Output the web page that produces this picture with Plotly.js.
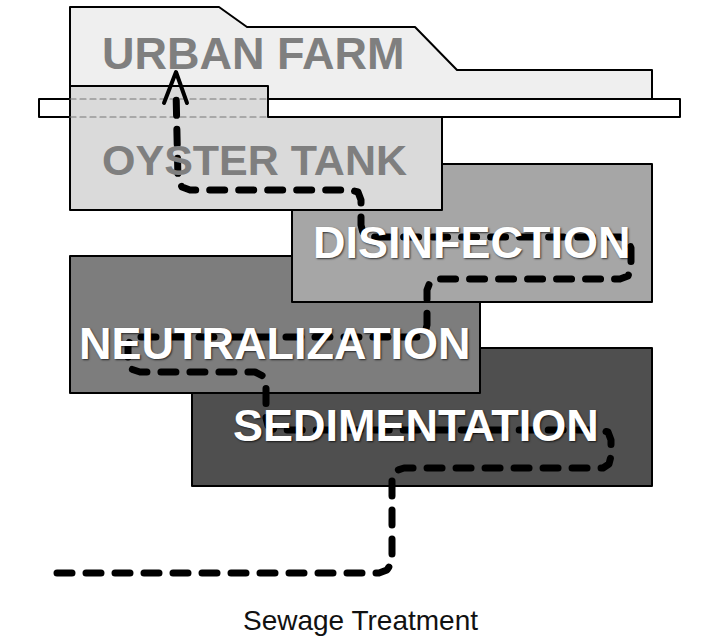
<!DOCTYPE html>
<html>
<head>
<meta charset="utf-8">
<script src="https://cdn.plot.ly/plotly-3.0.1.min.js"></script>
<style>
  html, body { margin: 0; padding: 0; background: #fff; }
  #chart { width: 716px; height: 641px; }
  .scatterlayer .js-line { stroke-linecap: round; stroke-linejoin: round; }
</style>
</head>
<body>
<div id="chart"></div>
<script>
// ---- Stage labels ----
const stageLabels = ["SEDIMENTATION", "NEUTRALIZATION", "DISINFECTION", "OYSTER TANK", "URBAN FARM"];
const captionText = "Sewage Treatment";

// ---- Stage boxes (diagram units) ----
const boxX0 = [192, 70, 292];
const boxX1 = [652, 480, 652];
const boxY0 = [348, 256, 164];
const boxY1 = [486, 393, 302];

// Urban farm outline
const farmX = [70, 70, 219, 247, 415, 457, 652, 652];
const farmY = [99, 7, 7, 27, 27, 70, 70, 99];

// Shelf / ground bar
const barX = [39, 680, 680, 39];
const barY = [99, 99, 117, 117];

// Oyster tank outline
const tankX = [70, 268, 268, 442, 442, 70];
const tankY = [86, 86, 117, 117, 210, 210];

// Flow path
const flowX = [57, 379, 387, 392, 392, 395, 404, 603, 609, 611, 611, 608, 600, 275, 268, 266, 266, 263, 255, 140, 131, 128, 128, 131, 138, 418, 425, 427, 427, 430, 438, 620, 628, 631, 631, 628, 620, 370, 363, 361, 361, 358, 350, 190, 182, 178, 176];
const flowY = [573, 573, 570, 562, 480, 471, 468, 468, 464, 456, 440, 432, 430, 430, 426, 418, 385, 376, 372, 372, 369, 362, 345, 339, 337, 337, 333, 325, 290, 282, 279, 279, 276, 268, 248, 240, 237, 237, 233, 225, 200, 192, 190, 190, 187, 180, 90];

// Arrow head
const arrowX = [164, 176, 187];
const arrowY = [103, 72, 103];

// Label anchor points
const labelX = [416, 275, 472, 254, 253];
const labelY = [425, 343, 242, 160, 53];
const captionX = 360, captionY = 620;

const boxFills = ["#4f4f4f", "#7d7d7d", "#a6a6a6"];

const traces = [];
for (let i = 0; i < boxX0.length; i++) {
  traces.push({
    type: "scatter", mode: "lines", fill: "toself", fillcolor: boxFills[i],
    x: [boxX0[i], boxX1[i], boxX1[i], boxX0[i], boxX0[i]],
    y: [boxY0[i], boxY0[i], boxY1[i], boxY1[i], boxY0[i]],
    line: { color: "#000", width: 2 }, hoverinfo: "skip", showlegend: false
  });
}
traces.push({
  type: "scatter", mode: "lines", fill: "toself", fillcolor: "#efefef",
  x: farmX, y: farmY, line: { color: "#000", width: 2 }, hoverinfo: "skip", showlegend: false
});
traces.push({
  type: "scatter", mode: "lines", fill: "toself", fillcolor: "#ffffff",
  x: barX.concat([barX[0]]), y: barY.concat([barY[0]]),
  line: { color: "#000", width: 2 }, hoverinfo: "skip", showlegend: false
});
traces.push({
  type: "scatter", mode: "lines", fill: "toself", fillcolor: "#dadada",
  x: tankX.concat([tankX[0]]), y: tankY.concat([tankY[0]]),
  line: { color: "#000", width: 2 }, hoverinfo: "skip", showlegend: false
});
// hidden bar edges behind the tank
traces.push({
  type: "scatter", mode: "lines",
  x: [tankX[0], tankX[1], null, tankX[0], tankX[1]],
  y: [barY[0], barY[0], null, barY[2], barY[2]],
  line: { color: "#777", width: 1.2, dash: "6px,4px" }, hoverinfo: "skip", showlegend: false
});
traces.push({
  type: "scatter", mode: "lines", x: flowX, y: flowY,
  line: { color: "#000", width: 7, dash: "15px,14px" }, hoverinfo: "skip", showlegend: false
});
traces.push({
  type: "scatter", mode: "lines", x: arrowX, y: arrowY,
  line: { color: "#000", width: 4 }, hoverinfo: "skip", showlegend: false
});

const fontFam = "'Liberation Sans', Arial, sans-serif";
const labelColors = ["#ffffff", "#ffffff", "#ffffff", "#7f7f7f", "#7f7f7f"];
const annotations = stageLabels.map((t, i) => ({
  x: labelX[i], y: labelY[i], xref: "x", yref: "y", text: t, showarrow: false,
  xanchor: "center", yanchor: "middle",
  font: {
    family: fontFam, size: i === 3 ? 43 : 45, color: labelColors[i], weight: "bold",
    shadow: i < 3 ? "1px 1px 2px rgba(0,0,0,0.7)" : "none"
  }
}));
annotations.push({
  x: captionX, y: captionY, xref: "x", yref: "y", text: captionText, showarrow: false,
  xanchor: "center", yanchor: "middle",
  font: { family: fontFam, size: 28, color: "#111" }
});

const layout = {
  width: 716, height: 641,
  margin: { l: 0, r: 0, t: 0, b: 0 },
  paper_bgcolor: "#ffffff", plot_bgcolor: "#ffffff",
  showlegend: false,
  xaxis: { range: [0, 716], visible: false, fixedrange: true },
  yaxis: { range: [641, 0], visible: false, fixedrange: true },
  annotations: annotations
};

Plotly.newPlot("chart", traces, layout, { displayModeBar: false, staticPlot: true });
</script>
</body>
</html>
